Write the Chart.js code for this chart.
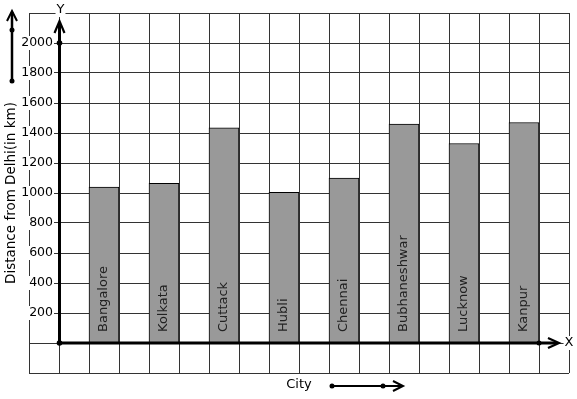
<!DOCTYPE html>
<html>
<head>
<meta charset="utf-8">
<script src="https://cdn.jsdelivr.net/npm/chart.js@4/dist/chart.umd.min.js"></script>
<style>
  html, body { margin: 0; padding: 0; background: #fff; }
  #wrap { width: 577px; height: 399px; }
</style>
</head>
<body>
<div id="wrap"><canvas id="chart"></canvas></div>
<script>
// City names and their distance from Delhi (km)
const cities = ['Bangalore', 'Kolkata', 'Cuttack', 'Hubli', 'Chennai', 'Bubhaneshwar', 'Lucknow', 'Kanpur'];
const distances = [1040, 1065, 1435, 1005, 1100, 1460, 1330, 1470];
const yTicks = [200, 400, 600, 800, 1000, 1200, 1400, 1600, 1800, 2000];

const FONT = '"DejaVu Sans", sans-serif';

// grid is 18 squares wide, a bar sits on every second square starting at the 3rd
const slotCount = 18;
const labels = new Array(slotCount).fill('');
const values = new Array(slotCount).fill(null);
cities.forEach((c, i) => {
    labels[2 + i * 2] = c;
    values[2 + i * 2] = distances[i];
});

function dot(ctx, x, y, r) {
    ctx.beginPath();
    ctx.arc(x, y, r, 0, Math.PI * 2);
    ctx.fill();
}

function boxedText(ctx, text, x, y, align) {
    const w = ctx.measureText(text).width;
    let left = x;
    if (align === 'center') left = x - w / 2;
    if (align === 'right') left = x - w;
    ctx.fillStyle = '#fff';
    ctx.fillRect(left - 1, y - 7, w + 2, 14);
    ctx.fillStyle = '#000';
    ctx.textAlign = align;
    ctx.fillText(text, x, y);
}

// axes with arrows, tick labels, titles and the names written inside the bars
const decorations = {
    id: 'decorations',
    afterDatasetsDraw(chart) {
        const ctx = chart.ctx;
        const x = chart.scales.x;
        const y = chart.scales.y;
        const area = chart.chartArea;
        const slot = (area.right - area.left) / slotCount;
        const ox = area.left + slot + 0.5;
        const oy = y.getPixelForValue(0);

        ctx.save();
        ctx.strokeStyle = '#000';
        ctx.fillStyle = '#000';
        ctx.lineCap = 'butt';

        // y axis
        ctx.lineWidth = 3;
        ctx.beginPath();
        ctx.moveTo(ox, oy);
        ctx.lineTo(ox, 22);
        ctx.stroke();
        ctx.lineWidth = 2.2;
        ctx.beginPath();
        ctx.moveTo(ox - 5, 33);
        ctx.lineTo(ox, 21);
        ctx.lineTo(ox + 5, 33);
        ctx.stroke();

        // x axis
        ctx.lineWidth = 3;
        ctx.beginPath();
        ctx.moveTo(ox, oy);
        ctx.lineTo(557, oy);
        ctx.stroke();
        ctx.lineWidth = 2.2;
        ctx.beginPath();
        ctx.moveTo(548, oy - 5);
        ctx.lineTo(559, oy);
        ctx.lineTo(548, oy + 5);
        ctx.stroke();

        dot(ctx, ox, oy, 2.8);
        dot(ctx, ox, y.getPixelForValue(2000), 2.8);
        dot(ctx, x.getPixelForValue(slotCount - 2) + slot / 2, oy, 2.5);

        // tick labels
        ctx.font = '12.5px ' + FONT;
        ctx.textBaseline = 'middle';
        yTicks.forEach(v => {
            boxedText(ctx, String(v), 53, y.getPixelForValue(v), 'right');
        });

        ctx.font = '13px ' + FONT;
        boxedText(ctx, 'Y', ox + 1, 10, 'center');
        boxedText(ctx, 'X', area.right, oy, 'center');

        // names inside the bars
        const meta = chart.getDatasetMeta(0);
        ctx.fillStyle = '#222';
        ctx.font = '13px ' + FONT;
        ctx.textAlign = 'left';
        ctx.textBaseline = 'middle';
        meta.data.forEach((bar, i) => {
            if (!labels[i]) return;
            ctx.save();
            ctx.translate(bar.x, oy - 11);
            ctx.rotate(-Math.PI / 2);
            ctx.fillText(labels[i], 0, 0);
            ctx.restore();
        });

        // y title
        ctx.fillStyle = '#000';
        ctx.font = '13.5px ' + FONT;
        ctx.textAlign = 'center';
        ctx.save();
        ctx.translate(11, (area.top + area.bottom) / 2);
        ctx.rotate(-Math.PI / 2);
        ctx.fillText('Distance from Delhi(in km)', 0, 0);
        ctx.restore();

        // x title
        ctx.font = '13px ' + FONT;
        ctx.fillText('City', 299, 385);

        // little arrow above the y title
        ctx.lineWidth = 2.5;
        ctx.beginPath();
        ctx.moveTo(12, 81);
        ctx.lineTo(12, 12);
        ctx.stroke();
        ctx.lineWidth = 2;
        ctx.beginPath();
        ctx.moveTo(7, 21);
        ctx.lineTo(12, 11);
        ctx.lineTo(17, 21);
        ctx.stroke();
        dot(ctx, 12, 30, 2.5);
        dot(ctx, 12, 81, 2.5);

        // little arrow right of the x title
        ctx.lineWidth = 2;
        ctx.beginPath();
        ctx.moveTo(332, 386);
        ctx.lineTo(402, 386);
        ctx.stroke();
        ctx.beginPath();
        ctx.moveTo(393, 381);
        ctx.lineTo(403, 386);
        ctx.lineTo(393, 391);
        ctx.stroke();
        dot(ctx, 332, 386, 2.5);
        dot(ctx, 383, 386, 2.5);

        ctx.restore();
    }
};

new Chart(document.getElementById('chart'), {
    type: 'bar',
    data: {
        labels: labels,
        datasets: [{
            data: values,
            backgroundColor: '#999999',
            borderColor: '#000',
            borderWidth: { top: 1, left: 1, right: 1, bottom: 0 },
            barPercentage: 1,
            categoryPercentage: 1
        }]
    },
    options: {
        responsive: true,
        maintainAspectRatio: false,
        animation: false,
        layout: {
            padding: { left: 29, top: 13, right: 8, bottom: 26 }
        },
        scales: {
            x: {
                grid: { color: '#333', lineWidth: 1, drawTicks: false, offset: true },
                border: { display: false },
                ticks: { display: false }
            },
            y: {
                min: -200,
                max: 2200,
                grid: { color: '#333', lineWidth: 1, drawTicks: false },
                border: { display: false },
                ticks: { display: false, stepSize: 200 }
            }
        },
        plugins: {
            legend: { display: false },
            tooltip: { enabled: false }
        }
    },
    plugins: [decorations]
});
</script>
</body>
</html>
